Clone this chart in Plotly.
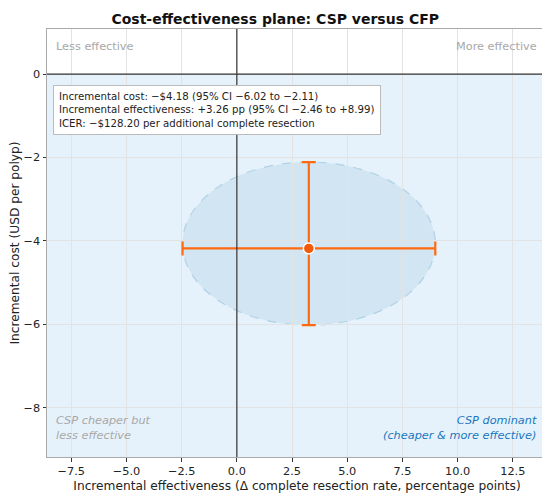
import plotly.graph_objects as go

# Point estimate and 95% CIs
delta_effect = [3.26]
effect_lo = [-2.46]
effect_hi = [8.99]
delta_cost = [-4.18]
cost_lo = [-6.02]
cost_hi = [-2.11]
icer = -128.20

x_ticks = [-7.5, -5.0, -2.5, 0.0, 2.5, 5.0, 7.5, 10.0, 12.5]
y_ticks = [0, -2, -4, -6, -8]
x_range = [-8.6, 14.05]
y_range = [-9.18, 1.08]

orange = "#ff6a10"
grey_txt = "#a8a8a8"
font = "DejaVu Sans"

fig = go.Figure()

# CI bars around the point estimate
fig.add_trace(go.Scatter(
    x=delta_effect, y=delta_cost, mode="markers",
    marker=dict(size=11, color="#f45a0c", line=dict(color="white", width=1.5)),
    error_x=dict(type="data", symmetric=False,
                 array=[effect_hi[0] - delta_effect[0]],
                 arrayminus=[delta_effect[0] - effect_lo[0]],
                 color=orange, thickness=2.2, width=7),
    error_y=dict(type="data", symmetric=False,
                 array=[cost_hi[0] - delta_cost[0]],
                 arrayminus=[delta_cost[0] - cost_lo[0]],
                 color=orange, thickness=2.2, width=7),
    showlegend=False, hoverinfo="skip",
))

# shaded "cheaper" half and CI ellipse
fig.add_shape(type="rect", xref="x", yref="y", x0=x_range[0], x1=x_range[1],
              y0=y_range[0], y1=0, fillcolor="#e6f2fb", line_width=0, layer="below")
fig.add_shape(type="circle", xref="x", yref="y",
              x0=effect_lo[0], x1=effect_hi[0], y0=cost_lo[0], y1=cost_hi[0],
              fillcolor="rgba(170,205,228,0.35)",
              line=dict(color="#b0d2e6", width=1.2, dash="dash"), layer="below")

# axes cross at zero
fig.add_shape(type="line", xref="x", yref="paper", x0=0, x1=0, y0=0, y1=1,
              line=dict(color="#333333", width=1.2))
fig.add_shape(type="line", xref="paper", yref="y", x0=0, x1=1, y0=0, y1=0,
              line=dict(color="#333333", width=1.2))

summary = (
    f"Incremental cost: \u2212${abs(delta_cost[0]):.2f} (95% CI \u2212{abs(cost_lo[0]):.2f} to \u2212{abs(cost_hi[0]):.2f})<br>"
    f"Incremental effectiveness: +{delta_effect[0]:.2f} pp (95% CI \u2212{abs(effect_lo[0]):.2f} to +{effect_hi[0]:.2f})<br>"
    f"ICER: \u2212${abs(icer):.2f} per additional complete resection"
)
fig.add_annotation(xref="paper", yref="paper", x=0.012, y=0.87, xanchor="left", yanchor="top",
                   text=summary, showarrow=False, align="left",
                   font=dict(family=font, size=10.2, color="#222222"),
                   bgcolor="white", bordercolor="#bbbbbb", borderwidth=1, borderpad=5)

fig.add_annotation(xref="paper", yref="paper", x=0.014, y=0.958, xanchor="left", yanchor="middle",
                   text="Less effective", showarrow=False,
                   font=dict(family=font, size=11.3, color=grey_txt))
fig.add_annotation(xref="paper", yref="paper", x=0.984, y=0.958, xanchor="right", yanchor="middle",
                   text="More effective", showarrow=False,
                   font=dict(family=font, size=11.3, color=grey_txt))
fig.add_annotation(xref="paper", yref="paper", x=0.014, y=0.068, xanchor="left", yanchor="middle",
                   text="<i>CSP cheaper but<br>less effective</i>", showarrow=False, align="left",
                   font=dict(family=font, size=11.3, color=grey_txt))
fig.add_annotation(xref="paper", yref="paper", x=0.984, y=0.068, xanchor="right", yanchor="middle",
                   text="<i>CSP dominant<br>(cheaper & more effective)</i>", showarrow=False, align="right",
                   font=dict(family=font, size=11.3, color="#1877c0"))

# page body has an 8px margin, so the figure is a bit smaller and offset
fig.update_layout(
    width=542, height=492,
    margin=dict(l=39, r=3, t=21, b=43),
    paper_bgcolor="white", plot_bgcolor="white",
    font=dict(family=font, size=11.3, color="#222222"),
    title=dict(text="<b>Cost-effectiveness plane: CSP versus CFP</b>",
               x=0.493, xanchor="center", y=0.988, yanchor="top",
               font=dict(family=font, size=14, color="#111111")),
)
fig.update_xaxes(range=x_range, tickvals=x_ticks, tickformat=".1f", automargin=False,
                 title=dict(text="Incremental effectiveness (\u0394 complete resection rate, percentage points)",
                            font=dict(size=12.2), standoff=4),
                 showgrid=True, gridcolor="#e3e3e3", zeroline=False,
                 showline=True, linecolor="#aaaaaa", mirror=True,
                 ticks="outside", ticklen=3.5, tickcolor="#333333", tickfont=dict(size=11.3))
fig.update_yaxes(range=y_range, tickvals=y_ticks, automargin=False,
                 title=dict(text="Incremental cost (USD per polyp)", font=dict(size=12.2), standoff=6),
                 showgrid=True, gridcolor="#e3e3e3", zeroline=False,
                 showline=True, linecolor="#aaaaaa", mirror=True,
                 ticks="outside", ticklen=3.5, tickcolor="#333333", tickfont=dict(size=11.3))

fig.write_html("out.html")
